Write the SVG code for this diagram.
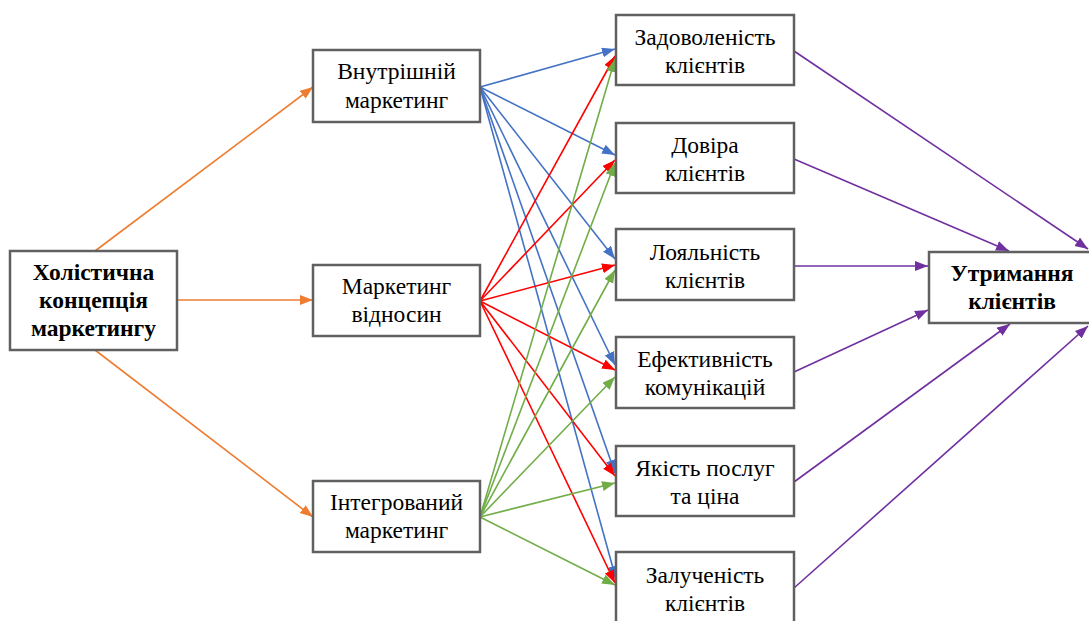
<svg xmlns="http://www.w3.org/2000/svg" width="1089" height="621" viewBox="0 0 1089 621">
  <style>
    .box { fill: #ffffff; stroke: #606060; stroke-width: 2.5; }
    .c { fill: none; stroke-width: 1.6; }
    .or { stroke: #ED7D31; }
    .bl { stroke: #4472C4; }
    .rd { stroke: #FF0000; }
    .gr { stroke: #70AD47; }
    .pu { stroke: #7030A0; }
  </style>
  <defs>
    <marker id="aOr" markerUnits="userSpaceOnUse" markerWidth="14" markerHeight="12" refX="13" refY="5" orient="auto"><path d="M0,0 L13,5 L0,10 z" fill="#ED7D31"/></marker>
    <marker id="aBl" markerUnits="userSpaceOnUse" markerWidth="14" markerHeight="12" refX="13" refY="5" orient="auto"><path d="M0,0 L13,5 L0,10 z" fill="#4472C4"/></marker>
    <marker id="aRd" markerUnits="userSpaceOnUse" markerWidth="14" markerHeight="12" refX="13" refY="5" orient="auto"><path d="M0,0 L13,5 L0,10 z" fill="#FF0000"/></marker>
    <marker id="aGr" markerUnits="userSpaceOnUse" markerWidth="14" markerHeight="12" refX="13" refY="5" orient="auto"><path d="M0,0 L13,5 L0,10 z" fill="#70AD47"/></marker>
    <marker id="aPu" markerUnits="userSpaceOnUse" markerWidth="14" markerHeight="12" refX="13" refY="5" orient="auto"><path d="M0,0 L13,5 L0,10 z" fill="#7030A0"/></marker>
  </defs>

  <!-- connectors -->
  <g id="connectors">
    <!-- holistic concept to the three marketing types -->
    <line class="c or" x1="95" y1="251" x2="313" y2="87" marker-end="url(#aOr)"/>
    <line class="c or" x1="177" y1="300" x2="313" y2="300" marker-end="url(#aOr)"/>
    <line class="c or" x1="95" y1="350" x2="313" y2="517" marker-end="url(#aOr)"/>

    <!-- internal marketing -->
    <line class="c bl" x1="480" y1="87" x2="615" y2="49" marker-end="url(#aBl)"/>
    <line class="c bl" x1="480" y1="87" x2="615" y2="155" marker-end="url(#aBl)"/>
    <line class="c bl" x1="480" y1="87" x2="615" y2="259" marker-end="url(#aBl)"/>
    <line class="c bl" x1="480" y1="87" x2="615" y2="365" marker-end="url(#aBl)"/>
    <line class="c bl" x1="480" y1="87" x2="615" y2="473" marker-end="url(#aBl)"/>
    <line class="c bl" x1="480" y1="87" x2="616" y2="579" marker-end="url(#aBl)"/>

    <!-- relationship marketing -->
    <line class="c rd" x1="480" y1="301" x2="615" y2="56" marker-end="url(#aRd)"/>
    <line class="c rd" x1="480" y1="301" x2="615" y2="160" marker-end="url(#aRd)"/>
    <line class="c rd" x1="480" y1="301" x2="615" y2="265" marker-end="url(#aRd)"/>
    <line class="c rd" x1="480" y1="301" x2="615" y2="370" marker-end="url(#aRd)"/>
    <line class="c rd" x1="480" y1="301" x2="615" y2="476" marker-end="url(#aRd)"/>
    <line class="c rd" x1="480" y1="301" x2="615" y2="583" marker-end="url(#aRd)"/>

    <!-- integrated marketing -->
    <line class="c gr" x1="480" y1="517" x2="615" y2="59" marker-end="url(#aGr)"/>
    <line class="c gr" x1="480" y1="517" x2="615" y2="163" marker-end="url(#aGr)"/>
    <line class="c gr" x1="480" y1="517" x2="615" y2="270" marker-end="url(#aGr)"/>
    <line class="c gr" x1="480" y1="517" x2="615" y2="377" marker-end="url(#aGr)"/>
    <line class="c gr" x1="480" y1="517" x2="615" y2="483" marker-end="url(#aGr)"/>
    <line class="c gr" x1="480" y1="517" x2="615" y2="585" marker-end="url(#aGr)"/>

    <!-- outcomes to retention -->
    <line class="c pu" x1="794" y1="51" x2="1088" y2="249" marker-end="url(#aPu)"/>
    <line class="c pu" x1="794" y1="159" x2="1009" y2="251" marker-end="url(#aPu)"/>
    <line class="c pu" x1="794" y1="266" x2="928" y2="266" marker-end="url(#aPu)"/>
    <line class="c pu" x1="794" y1="372" x2="928" y2="310" marker-end="url(#aPu)"/>
    <line class="c pu" x1="794" y1="482" x2="1010" y2="324" marker-end="url(#aPu)"/>
    <line class="c pu" x1="794" y1="588" x2="1088" y2="326" marker-end="url(#aPu)"/>
  </g>

  <g font-family="Liberation Serif, DejaVu Serif, serif" font-size="23.5" fill="#000000" text-anchor="middle">
    <!-- source concept -->
    <g id="holistic" font-weight="bold">
      <rect class="box" x="10" y="251" width="167" height="99"/>
      <text x="93.5" y="280">Холістична</text>
      <text x="93.5" y="308">концепція</text>
      <text x="93.5" y="336">маркетингу</text>
    </g>

    <!-- marketing types -->
    <g id="internal">
      <rect class="box" x="313" y="50" width="167" height="72"/>
      <text x="396.5" y="79">Внутрішній</text>
      <text x="396.5" y="108">маркетинг</text>
    </g>
    <g id="relationship">
      <rect class="box" x="313" y="265" width="167" height="71"/>
      <text x="396.5" y="294">Маркетинг</text>
      <text x="396.5" y="322">відносин</text>
    </g>
    <g id="integrated">
      <rect class="box" x="313" y="481" width="167" height="71"/>
      <text x="396.5" y="510">Інтегрований</text>
      <text x="396.5" y="538">маркетинг</text>
    </g>

    <!-- customer outcomes -->
    <g id="satisfaction">
      <rect class="box" x="616" y="15" width="178" height="70"/>
      <text x="705" y="45">Задоволеність</text>
      <text x="705" y="73">клієнтів</text>
    </g>
    <g id="trust">
      <rect class="box" x="616" y="123" width="178" height="70"/>
      <text x="705" y="153">Довіра</text>
      <text x="705" y="181">клієнтів</text>
    </g>
    <g id="loyalty">
      <rect class="box" x="616" y="229" width="178" height="71"/>
      <text x="705" y="260">Лояльність</text>
      <text x="705" y="288">клієнтів</text>
    </g>
    <g id="communication">
      <rect class="box" x="616" y="337" width="178" height="71"/>
      <text x="705" y="367">Ефективність</text>
      <text x="705" y="395">комунікацій</text>
    </g>
    <g id="quality">
      <rect class="box" x="616" y="446" width="178" height="70"/>
      <text x="705" y="476">Якість послуг</text>
      <text x="705" y="504">та ціна</text>
    </g>
    <g id="engagement">
      <rect class="box" x="616" y="552" width="178" height="75"/>
      <text x="705" y="583">Залученість</text>
      <text x="705" y="611">клієнтів</text>
    </g>

    <!-- result -->
    <g id="retention" font-weight="bold">
      <rect class="box" x="929" y="252" width="166" height="71"/>
      <text x="1012" y="281">Утримання</text>
      <text x="1012" y="309">клієнтів</text>
    </g>
  </g>
</svg>
